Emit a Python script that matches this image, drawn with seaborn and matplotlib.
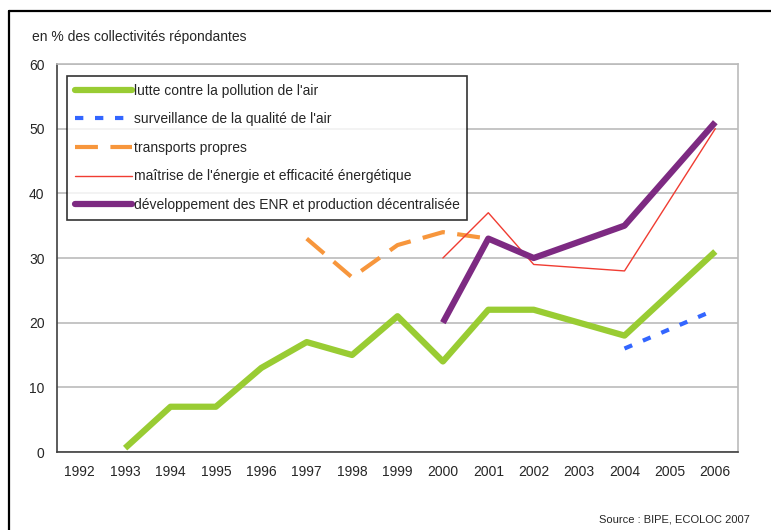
import matplotlib
matplotlib.use("Agg")
import matplotlib.pyplot as plt
import seaborn as sns
import pandas as pd
from matplotlib.lines import Line2D

# catégories (axe des x)
years = [1992, 1993, 1994, 1995, 1996, 1997, 1998, 1999, 2000, 2001, 2002, 2003, 2004, 2005, 2006]

# séries
air_years = [1993, 1994, 1995, 1996, 1997, 1998, 1999, 2000, 2001, 2002, 2004, 2006]
air_vals = [0.6, 7, 7, 13, 17, 15, 21, 14, 22, 22, 18, 31]

surv_years = [2004, 2006]
surv_vals = [16, 22]

transp_years = [1997, 1998, 1999, 2000, 2001]
transp_vals = [33, 27, 32, 34, 33]

energie_years = [2000, 2001, 2002, 2004, 2006]
energie_vals = [30, 37, 29, 28, 50]

enr_years = [2000, 2001, 2002, 2004, 2006]
enr_vals = [20, 33, 30, 35, 51]

labels = [
    "lutte contre la pollution de l'air",
    "surveillance de la qualité de l'air",
    "transports propres",
    "maîtrise de l'énergie et efficacité énergétique",
    "développement des ENR et production décentralisée",
]

sns.set_style("white")
plt.rcParams['font.family'] = ['Liberation Sans', 'DejaVu Sans']

fig = plt.figure(figsize=(7.71, 5.30), dpi=100)
ax = fig.add_axes([57 / 771, 1 - 452 / 530, 681 / 771, 388 / 530])

styles = [
    dict(color="#99CC33", linewidth=4.5, solid_capstyle="butt"),
    dict(color="#3366FF", linewidth=3, dashes=(2, 2.8)),
    dict(color="#F7963C", linewidth=3, dashes=(5.5, 3)),
    dict(color="#F03C32", linewidth=1),
    dict(color="#7D2A82", linewidth=4.5, solid_capstyle="butt"),
]
series = [
    (air_years, air_vals),
    (surv_years, surv_vals),
    (transp_years, transp_vals),
    (energie_years, energie_vals),
    (enr_years, enr_vals),
]

for (xs, ys), lab, st in zip(series, labels, styles):
    df = pd.DataFrame({"annee": xs, "val": ys})
    sty = dict(st)
    dashes = sty.pop("dashes", None)
    sns.lineplot(data=df, x="annee", y="val", ax=ax, **sty)
    if dashes is not None:
        ax.lines[-1].set_dashes(dashes)

# axes
ax.set_xlim(years[0] - 0.5, years[-1] + 0.5)
ax.set_ylim(0, 60)
ax.set_xticks(years)
ax.set_xticklabels([str(y) for y in years], fontsize=10)
ax.set_xticks([y - 0.5 for y in years] + [years[-1] + 0.5], minor=True)
ax.tick_params(axis="x", which="major", length=0, pad=9)
ax.tick_params(axis="x", which="minor", length=5, width=1, color="#404040", direction="out")
ax.set_yticks(range(0, 61, 10))
ax.tick_params(axis="y", length=5, width=1, color="#404040", direction="out", labelsize=10, pad=4)
ax.set_xlabel("")
ax.set_ylabel("")
ax.yaxis.grid(True, color="#BBBBBB", linewidth=1.2)
ax.set_axisbelow(True)
for s in ["left", "bottom"]:
    ax.spines[s].set_color("#404040")
    ax.spines[s].set_linewidth(1.2)
for s in ["top", "right"]:
    ax.spines[s].set_color("#BBBBBB")
    ax.spines[s].set_linewidth(1.2)

# légende
handles = []
for st in styles:
    sty = dict(st)
    dashes = sty.pop("dashes", None)
    sty.pop("solid_capstyle", None)
    h = Line2D([], [], **sty)
    if dashes is not None:
        h.set_dashes(dashes)
    handles.append(h)
leg = ax.legend(handles, labels, loc="upper left", bbox_to_anchor=(0.0147, 0.969),
                borderaxespad=0, fontsize=10, handlelength=4.1, handletextpad=0.15,
                labelspacing=1.05, frameon=True, fancybox=False, borderpad=0.55)
leg.get_frame().set_edgecolor("black")
leg.get_frame().set_linewidth(1.2)

# textes
fig.text(32 / 771, 1 - 37 / 530, "en % des collectivités répondantes", fontsize=10, va="center", ha="left")
fig.text(750 / 771, 1 - 519 / 530, "Source : BIPE, ECOLOC 2007", fontsize=8, va="center", ha="right")

# cadre noir de la figure
fig.add_artist(Line2D([9 / 771, 9 / 771], [0, 1 - 11 / 530], color="black", linewidth=1.6,
                      transform=fig.transFigure))
fig.add_artist(Line2D([9 / 771, 1], [1 - 11 / 530, 1 - 11 / 530], color="black", linewidth=1.6,
                      transform=fig.transFigure))

fig.savefig("out.png", dpi=100)
